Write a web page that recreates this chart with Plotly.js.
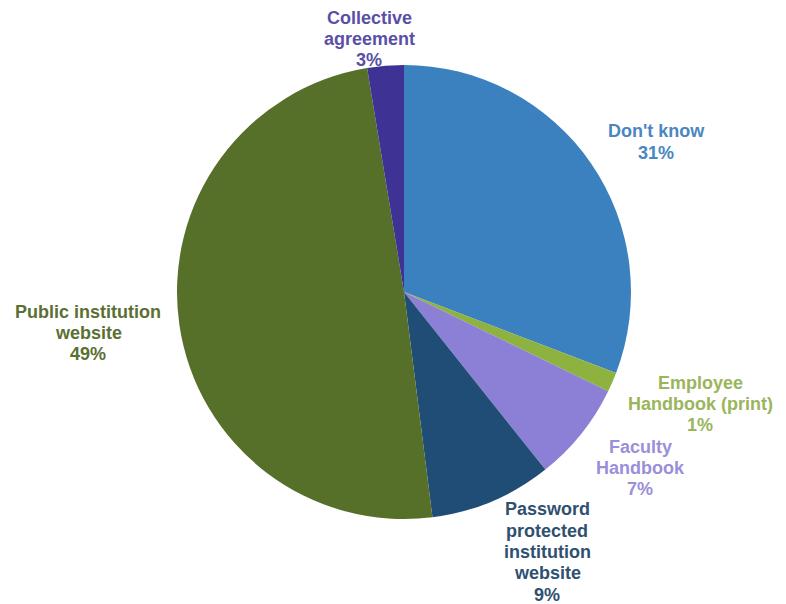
<!DOCTYPE html>
<html>
<head>
<meta charset="utf-8">
<script src="https://cdn.plot.ly/plotly-3.0.1.min.js"></script>
<style>html,body{margin:0;padding:0;background:#fff;}#chart{width:786px;height:604px;}</style>
</head>
<body>
<div id="chart"></div>
<script>
const categories = ["Don't know", "Employee Handbook (print)", "Faculty Handbook", "Password protected institution website", "Public institution website", "Collective agreement"];
const labelLines = [["Don't know"], ["Employee", "Handbook (print)"], ["Faculty", "Handbook"], ["Password", "protected", "institution", "website"], ["Public institution", "website"], ["Collective", "agreement"]];
const values = [30.8, 1.4, 7.1, 8.7, 49.4, 2.6];
const sliceColors = ["#3b80bf", "#8db23f", "#8b7fd6", "#1f4d75", "#56702a", "#3e3294"];
const textColors = ["#4a86c0", "#9ab55c", "#9a8fd8", "#2f5070", "#5b6f33", "#5a4fa6"];
// label block centre positions in pixels (layout only)
const labelPos = [[656, 142], [700, 404], [640, 468], [547, 552], [88, 333], [369, 39]];

const W = 786, H = 604;
const cx = 404, cy = 292, R = 227;
const lineGap = 21.3;

const total = values.reduce((a, b) => a + b, 0);
const annotations = [];
categories.forEach((c, i) => {
  const lines = labelLines[i].concat([Math.round(values[i] / total * 100) + '%']);
  const n = lines.length;
  lines.forEach((t, k) => {
    const py = labelPos[i][1] + (k - (n - 1) / 2) * lineGap;
    annotations.push({
      text: t,
      x: labelPos[i][0] / W, y: 1 - py / H,
      xref: 'paper', yref: 'paper', xanchor: 'center', yanchor: 'middle',
      showarrow: false, align: 'center',
      font: {family: 'Liberation Sans, Arial, sans-serif', size: 18, color: textColors[i], weight: 'bold'}
    });
  });
});

const trace = {
  type: 'pie',
  labels: categories,
  values: values,
  sort: false,
  direction: 'clockwise',
  rotation: 0,
  textinfo: 'none',
  hoverinfo: 'label+percent',
  marker: {colors: sliceColors, line: {width: 0}},
  domain: {x: [(cx - R) / W, (cx + R) / W], y: [(H - cy - R) / H, (H - cy + R) / H]},
  showlegend: false
};

Plotly.newPlot('chart', [trace], {
  width: W, height: H,
  margin: {l: 0, r: 0, t: 0, b: 0},
  paper_bgcolor: '#ffffff',
  showlegend: false,
  annotations: annotations
}, {displayModeBar: false, staticPlot: true});
</script>
</body>
</html>
